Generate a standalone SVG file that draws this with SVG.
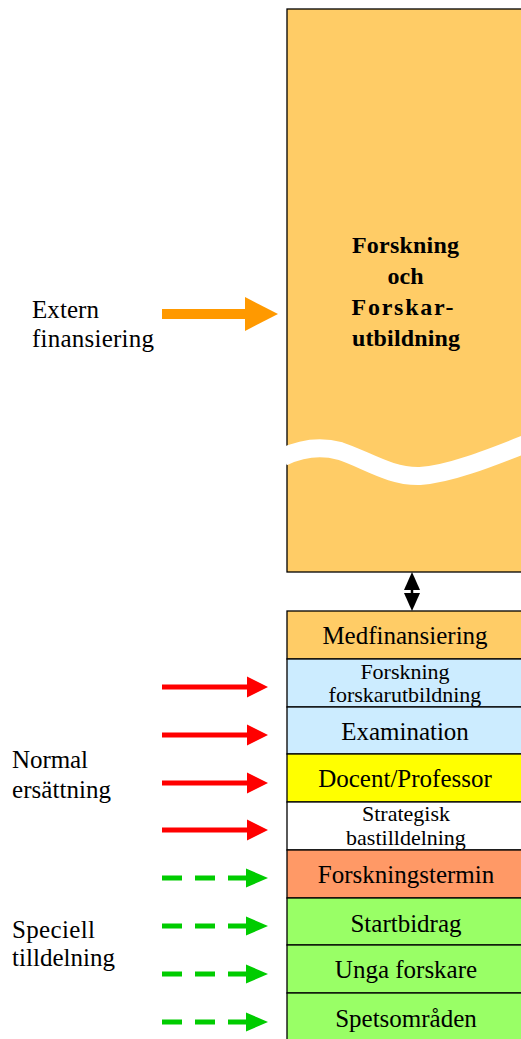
<svg xmlns="http://www.w3.org/2000/svg" width="521" height="1039" viewBox="0 0 521 1039">
<style>
.box{stroke:#000;stroke-width:1.3}
.t{font-family:"Liberation Serif","Times New Roman",serif;fill:#000;text-anchor:middle}
.big{font-size:25px}
.small{font-size:22px}
.lbl{font-family:"Liberation Serif","Times New Roman",serif;font-size:25px;fill:#000}
.bold{font-family:"Liberation Serif","Times New Roman",serif;font-size:24px;font-weight:bold;fill:#000;text-anchor:middle}
.red{fill:#FF0000}
.grn{fill:#00CC00}
</style>
<rect width="521" height="1039" fill="#fff"/>
<g id="forskning">
<rect class="box" x="287" y="9" width="240" height="563" fill="#FFCC66"/>
<path d="M 283 457 C 300 449, 318 445, 340 451 C 365 459, 390 477, 420 476 C 450 474, 490 458, 528 443" fill="none" stroke="#fff" stroke-width="18"/>
<text class="bold" x="405.5" y="253" textLength="107" lengthAdjust="spacing">Forskning</text>
<text class="bold" x="405.5" y="284">och</text>
<text class="bold" x="402.5" y="315" textLength="102" lengthAdjust="spacing">Forskar-</text>
<text class="bold" x="406" y="346" textLength="108" lengthAdjust="spacing">utbildning</text>
</g>
<g id="medfinansiering"><rect class="box" x="287" y="611" width="240" height="48" fill="#FFCC66"/><text class="t big" x="405" y="644">Medfinansiering</text></g>
<g id="forskarutbildning"><rect class="box" x="287" y="659" width="240" height="48" fill="#CCECFF"/><text class="t small" x="405" y="679">Forskning</text><text class="t small" x="405" y="702">forskarutbildning</text></g>
<g id="examination"><rect class="box" x="287" y="707" width="240" height="47" fill="#CCECFF"/><text class="t big" x="405" y="740">Examination</text></g>
<g id="docent"><rect class="box" x="287" y="754" width="240" height="48" fill="#FFFF00"/><text class="t big" x="405" y="787">Docent/Professor</text></g>
<g id="strategisk"><rect class="box" x="287" y="802" width="240" height="48" fill="#FFFFFF"/><text class="t small" x="406" y="821">Strategisk</text><text class="t small" x="406" y="845">bastilldelning</text></g>
<g id="forskningstermin"><rect class="box" x="287" y="850" width="240" height="48" fill="#FF9966"/><text class="t big" x="406" y="883">Forskningstermin</text></g>
<g id="startbidrag"><rect class="box" x="287" y="898" width="240" height="47" fill="#99FF66"/><text class="t big" x="406" y="932">Startbidrag</text></g>
<g id="unga"><rect class="box" x="287" y="945" width="240" height="48" fill="#99FF66"/><text class="t big" x="406" y="978">Unga forskare</text></g>
<g id="spets"><rect class="box" x="287" y="993" width="240" height="50" fill="#99FF66"/><text class="t big" x="406" y="1027">Spetsområden</text></g>
<g id="labels">
<text class="lbl" x="32" y="318" textLength="67" lengthAdjust="spacing">Extern</text>
<text class="lbl" x="32" y="347" textLength="122" lengthAdjust="spacing">finansiering</text>
<text class="lbl" x="12" y="768" textLength="76" lengthAdjust="spacing">Normal</text>
<text class="lbl" x="12" y="798" textLength="99" lengthAdjust="spacing">ersättning</text>
<text class="lbl" x="12" y="938" textLength="83" lengthAdjust="spacing">Speciell</text>
<text class="lbl" x="12" y="966" textLength="103" lengthAdjust="spacing">tilldelning</text>
</g>
<g id="connectors">
<rect x="162" y="309" width="85" height="10" fill="#FF9900"/>
<polygon points="245,297 278,314 245,331" fill="#FF9900"/>
<line x1="412" y1="586" x2="412" y2="597" stroke="#000" stroke-width="2.5"/>
<polygon points="404,590 412,572 420,590" fill="#000"/>
<polygon points="404,593 412,611 420,593" fill="#000"/>
<g class="red">
<rect x="162" y="684.5" width="87" height="5"/><polygon points="247,676.5 268,687 247,697.5"/>
<rect x="162" y="732.5" width="87" height="5"/><polygon points="247,724.5 268,735 247,745.5"/>
<rect x="162" y="780.5" width="87" height="5"/><polygon points="247,772.5 268,783 247,793.5"/>
<rect x="162" y="827.5" width="87" height="5"/><polygon points="247,819.5 268,830 247,840.5"/>
</g>
<g stroke="#00CC00" stroke-width="5" stroke-dasharray="20 13">
<line x1="162" y1="878" x2="248" y2="878"/>
<line x1="162" y1="926" x2="248" y2="926"/>
<line x1="162" y1="974" x2="248" y2="974"/>
<line x1="162" y1="1022" x2="248" y2="1022"/>
</g>
<g class="grn">
<polygon points="246,868.5 268,878 246,887.5"/>
<polygon points="246,916.5 268,926 246,935.5"/>
<polygon points="246,964.5 268,974 246,983.5"/>
<polygon points="246,1012.5 268,1022 246,1031.5"/>
</g>
</g>
</svg>
